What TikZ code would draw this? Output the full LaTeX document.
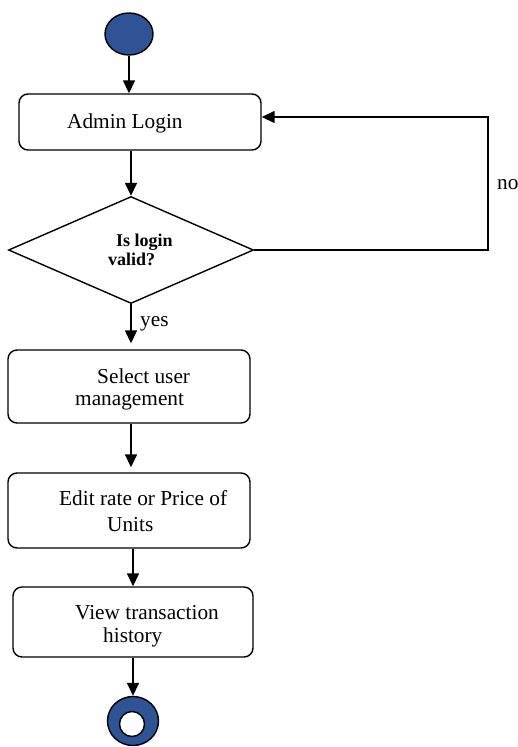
\documentclass[tikz,border=0pt]{standalone}
\usepackage{fontspec}
\setmainfont{Liberation Serif}
\usetikzlibrary{arrows.meta,shapes.geometric}
\definecolor{nodeblue}{RGB}{46,84,150}
\tikzset{
  flow/.style={draw=black,line width=1.5pt,-{Triangle[length=13pt,width=12pt]}},
  line/.style={draw=black,line width=1.5pt},
  stepbox/.style={draw=black,line width=1.4pt,rounded corners=9pt,rectangle,inner sep=0pt},
  txt/.style={anchor=base west,inner sep=0pt,font=\fontsize{21.3}{25}\selectfont},
  btxt/.style={anchor=base west,inner sep=0pt,font=\fontsize{18}{22}\selectfont\bfseries},
}
\begin{document}
\begin{tikzpicture}[x=1pt,y=-1pt]
\useasboundingbox (0,0) rectangle (518,747);

% start and end states
\node[ellipse,draw=black,line width=1.4pt,fill=nodeblue,minimum width=48pt,minimum height=42pt,inner sep=0pt] (start) at (129,34) {};
\node[ellipse,draw=black,line width=1.4pt,fill=nodeblue,minimum width=51pt,minimum height=49pt,inner sep=0pt] (end) at (133,721) {};
\node[circle,draw=black,line width=1.4pt,fill=white,minimum size=25pt,inner sep=0pt] (endin) at (132,724) {};

% activity boxes
\node[stepbox,minimum width=242pt,minimum height=56pt] (admin) at (140,122) {};
\node[diamond,draw=black,line width=1.4pt,minimum width=245pt,minimum height=107pt,inner sep=0pt] (dec) at (131,250) {};
\node[stepbox,minimum width=242pt,minimum height=73pt] (sel) at (129,386.5) {};
\node[stepbox,minimum width=242pt,minimum height=75pt] (edit) at (129,510.5) {};
\node[stepbox,minimum width=240pt,minimum height=70pt] (view) at (133,622) {};

% texts
\node[txt] (t1) at (67,128) {Admin Login};
\node[btxt] (t2a) at (116,246) {Is login};
\node[btxt] (t2b) at (108,265) {valid?};
\node[txt] (t3a) at (97,383) {Select user};
\node[txt] (t3b) at (75,405) {management};
\node[txt] (t4a) at (59,505) {Edit rate or Price of};
\node[txt] (t4b) at (107,531) {Units};
\node[txt] (t5a) at (75,619) {View transaction};
\node[txt] (t5b) at (103,642) {history};
\node[txt] (yes) at (140,326) {yes};
\node[txt] (no) at (497,189) {no};

% connectors
\draw[flow] (start.south) -- (start.south |- admin.north);
\draw[flow] (dec.north |- admin.south) -- (dec.north);
\draw[flow,shorten >=6pt] (dec.south) -- (dec.south |- sel.north);
\draw[flow,shorten >=5pt] (dec.south |- sel.south) -- (dec.south |- edit.north);
\draw[flow] (view.north |- edit.south) -- (view.north);
\draw[flow] (view.south) -- (end.north);
\coordinate (loopc) at (488,117);
\draw[flow] (dec.east) -| (loopc) -- (loopc -| admin.east);
\end{tikzpicture}
\end{document}
